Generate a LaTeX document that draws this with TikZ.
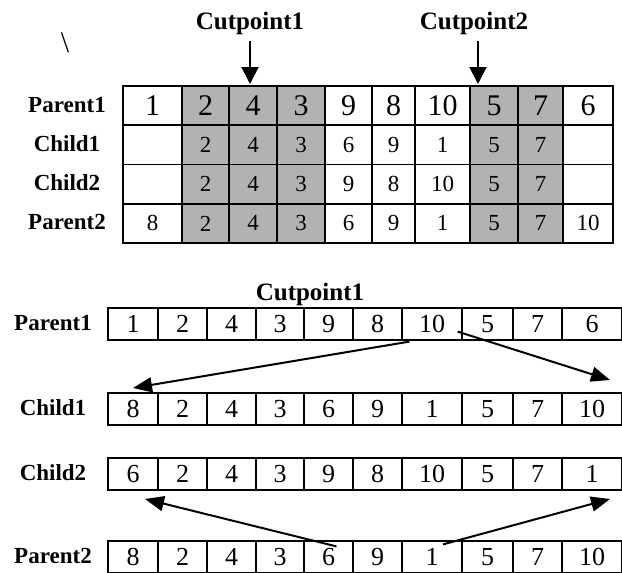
\documentclass[tikz,border=0pt]{standalone}
\usepackage{fontspec}
\setmainfont{Liberation Serif}
\usetikzlibrary{arrows.meta}

\def\topcols{123,182,229,277,325,372,415,470,518,563,613}
\def\botcols{108,158,207,256,304,353,402,462,513,562,622}

\begin{document}
\begin{tikzpicture}[x=1pt,y=-1pt,
   topcell/.style={draw,line width=1.8pt,inner sep=0pt,minimum height=39.25pt},
   botcell/.style={draw,line width=1.2pt,inner sep=0pt,minimum height=32pt},
   bignum/.style={font=\fontsize{30}{30}\selectfont},
   smallnum/.style={font=\fontsize{23}{23}\selectfont},
   midnum/.style={font=\fontsize{26}{26}\selectfont},
   rowname/.style={font=\bfseries\fontsize{23}{23}\selectfont},
   cutname/.style={font=\bfseries\fontsize{25}{25}\selectfont},
   cutarrow/.style={line width=2pt,-{Triangle[length=17pt,width=17pt]}},
   swaparrow/.style={line width=2pt,-{Triangle[length=19pt,width=15pt]}}]

   \useasboundingbox (0,0) rectangle (622,573);

   % stray mark
   \node[font=\fontsize{30}{30}\selectfont] (bslash) at (65,43) {\textbackslash};

   % upper figure: segments between the cut points
   \fill[black!30] (182,86) rectangle (325,243);
   \fill[black!30] (470,86) rectangle (563,243);

   \foreach \y/\rname/\st/\vals in {
         105.6/tpa/bignum/{1,2,4,3,9,8,10,5,7,6},
         144.9/tca/smallnum/{{},2,4,3,6,9,1,5,7,{}},
         184.1/tcb/smallnum/{{},2,4,3,9,8,10,5,7,{}},
         223.4/tpb/smallnum/{8,2,4,3,6,9,1,5,7,10}} {
      \foreach \v [count=\i] in \vals {
         \pgfmathsetmacro\xa{{\topcols}[\i-1]}
         \pgfmathsetmacro\xb{{\topcols}[\i]}
         \pgfmathsetmacro\w{\xb-\xa}
         \node[topcell,\st,minimum width=\w pt] (\rname-\i) at ({(\xa+\xb)/2},\y) {\v};
      }
   }

   \node[rowname] (lpa) at (67,105) {Parent1};
   \node[rowname] (lca) at (67,144) {Child1};
   \node[rowname] (lcb) at (67,183) {Child2};
   \node[rowname] (lpb) at (67,222) {Parent2};

   \node[cutname] (cuta) at (250,23) {Cutpoint1};
   \node[cutname] (cutb) at (474,23) {Cutpoint2};
   \coordinate (cutatip) at (250,84);
   \coordinate (cutbtip) at (478,84);
   \draw[cutarrow] (cuta.south -| cutatip) ++(0,3) -- (cutatip);
   \draw[cutarrow] (cutb.south -| cutbtip) ++(0,3) -- (cutbtip);

   % lower figure: filling the children
   \foreach \y/\rname/\vals in {
         324/bpa/{1,2,4,3,9,8,10,5,7,6},
         409/bca/{8,2,4,3,6,9,1,5,7,10},
         474/bcb/{6,2,4,3,9,8,10,5,7,1},
         557/bpb/{8,2,4,3,6,9,1,5,7,10}} {
      \foreach \v [count=\i] in \vals {
         \pgfmathsetmacro\xa{{\botcols}[\i-1]}
         \pgfmathsetmacro\xb{{\botcols}[\i]}
         \pgfmathsetmacro\w{\xb-\xa}
         \node[botcell,midnum,minimum width=\w pt] (\rname-\i) at ({(\xa+\xb)/2},\y) {\v};
      }
   }

   \node[rowname] (mpa) at (53,323) {Parent1};
   \node[rowname] (mca) at (53,408) {Child1};
   \node[rowname] (mcb) at (53,473) {Child2};
   \node[rowname] (mpb) at (53,556) {Parent2};

   \node[cutname] (cutc) at (310,294) {Cutpoint1};

   \coordinate (tipa) at (133,388);
   \coordinate (tipb) at (610,380);
   \coordinate (tipc) at (145,499);
   \coordinate (tipd) at (610,499);
   \draw[swaparrow] (bpa-7.south west) ++(8,1) -- (tipa);
   \draw[swaparrow] (bpa-7.south east) ++(-5,-9) -- (tipb);
   \draw[swaparrow] (bpb-5.north) ++(8,6) -- (tipc);
   \draw[swaparrow] (bpb-7.north) ++(11,4) -- (tipd);
\end{tikzpicture}
\end{document}
